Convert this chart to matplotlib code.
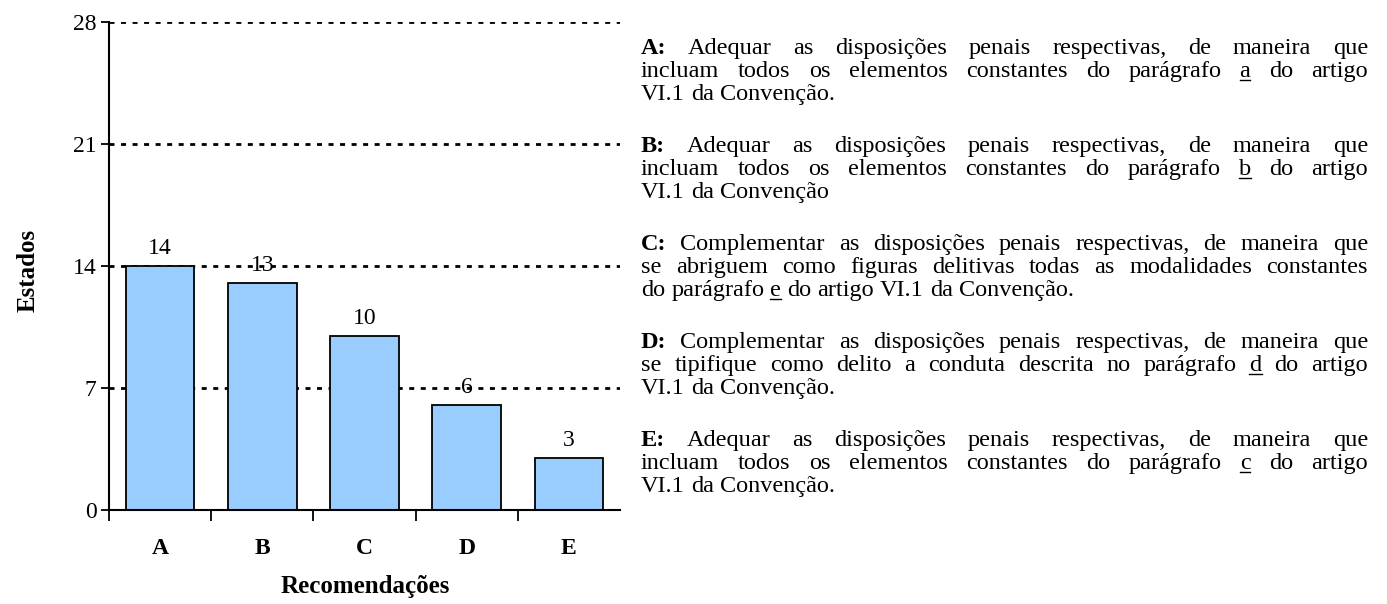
import matplotlib
matplotlib.use('Agg')
import matplotlib.pyplot as plt
from matplotlib.lines import Line2D

# chart data
categories = ['A', 'B', 'C', 'D', 'E']
estados = [14, 13, 10, 6, 3]
y_ticks = [0, 7, 14, 21, 28]

# legend text, one entry per recommendation, lines as in the original
# words wrapped in _x_ are underlined, the first word is bold
notes = [
    ['A: Adequar as disposições penais respectivas, de maneira que',
     'incluam todos os elementos constantes do parágrafo _a_ do artigo',
     'VI.1 da Convenção.'],
    ['B: Adequar as disposições penais respectivas, de maneira que',
     'incluam todos os elementos constantes do parágrafo _b_ do artigo',
     'VI.1 da Convenção'],
    ['C: Complementar as disposições penais respectivas, de maneira que',
     'se abriguem como figuras delitivas todas as modalidades constantes',
     'do parágrafo _e_ do artigo VI.1 da Convenção.'],
    ['D: Complementar as disposições penais respectivas, de maneira que',
     'se tipifique como delito a conduta descrita no parágrafo _d_ do artigo',
     'VI.1 da Convenção.'],
    ['E: Adequar as disposições penais respectivas, de maneira que',
     'incluam todos os elementos constantes do parágrafo _c_ do artigo',
     'VI.1 da Convenção.'],
]

plt.rcParams['font.family'] = 'Liberation Serif'

W, H = 1387, 604
fig = plt.figure(figsize=(W / 100, H / 100), dpi=100)
ax = fig.add_axes([109 / W, 1 - 510 / H, (620 - 109) / W, (510 - 22) / H])

x = list(range(len(categories)))
ax.bar(x, estados, width=0.67, color='#99CCFF', edgecolor='black', linewidth=1.3, zorder=3)
for i, v in enumerate(estados):
    ax.text(i, v + 0.7, str(v), ha='center', va='baseline', fontsize=17, zorder=4)

for yv in y_ticks[1:]:
    ax.axhline(yv, color='black', linewidth=2.0, dashes=(1.8, 2.35), zorder=1)

ax.set_xlim(-0.5, len(categories) - 0.5)
ax.set_ylim(0, 28)
ax.set_yticks(y_ticks)
ax.set_yticklabels([str(t) for t in y_ticks], fontsize=17)
ax.set_xticks(x)
ax.set_xticklabels(categories, fontsize=17, fontweight='bold')
ax.set_xticks([i - 0.5 for i in range(len(categories))], minor=True)
ax.tick_params(axis='x', which='major', length=0, pad=20)
ax.tick_params(axis='x', which='minor', length=8, width=1.3, direction='out')
ax.tick_params(axis='y', length=6, width=1.3, direction='out', pad=3)

for s in ['top', 'right']:
    ax.spines[s].set_visible(False)
for s in ['left', 'bottom']:
    ax.spines[s].set_linewidth(1.5)
ax.spines['bottom'].set_zorder(5)

fig.text(28 / W, 1 - 270 / H, 'Estados', rotation=90, ha='center', va='center',
         fontsize=18, fontweight='bold')
fig.text(365 / W, 1 - 586 / H, 'Recomendações', ha='center', va='center',
         fontsize=18, fontweight='bold')

# justified text block on the right
fig.canvas.draw()
renderer = fig.canvas.get_renderer()
x0, x1 = 641, 1368
first_base = 54
line_step = 23
para_step = 98
fs = 17.5


def place_line(line, ybase, justify, bold_first):
    words = line.split(' ')
    items = []
    for k, w in enumerate(words):
        under = w.startswith('_') and w.endswith('_')
        s = w.strip('_') if under else w
        t = fig.text(0, 0, s, fontsize=fs, va='baseline', ha='left',
                     fontweight='bold' if (bold_first and k == 0) else 'normal')
        wd = t.get_window_extent(renderer).width
        items.append((t, wd, under))
    total = sum(it[1] for it in items)
    if justify and len(items) > 1:
        gap = (x1 - x0 - total) / (len(items) - 1)
    else:
        gap = fs * 1.39 * 0.25
    cx = x0
    for t, wd, under in items:
        t.set_position((cx / W, 1 - ybase / H))
        if under:
            fig.add_artist(Line2D([cx / W, (cx + wd) / W],
                                  [1 - (ybase + 3) / H] * 2,
                                  color='black', linewidth=1.0))
        cx += wd + gap


for p, lines in enumerate(notes):
    for j, line in enumerate(lines):
        ybase = first_base + p * para_step + j * line_step
        place_line(line, ybase, justify=(j < len(lines) - 1), bold_first=(j == 0))

fig.savefig('out.png', dpi=100)
